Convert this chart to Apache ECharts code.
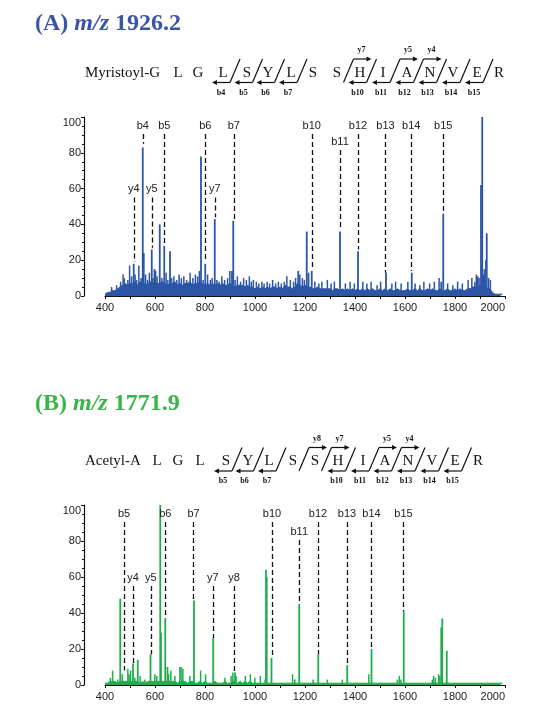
<!DOCTYPE html>
<html>
<head>
<meta charset="utf-8">
<script src="https://cdn.jsdelivr.net/npm/echarts@6/dist/echarts.min.js"></script>
<style>
  html, body { margin: 0; padding: 0; background: #fff; }
  #main { width: 537px; height: 724px; }
</style>
</head>
<body>
<div id="main"></div>
<script>
// ---- data ----
// baseline band, one value every 10 m/z from 400
var mzStart = 400, mzStep = 10;
var noiseA = [
  1,2,2,3,3,4,5,6,7,6,
  7,7,8,6,8,7,7,6,8,7,
  8,7,7,8,7,6,7,7,8,6,
  7,6,7,7,8,6,7,7,8,7,
  6,7,6,7,6,7,6,7,6,6,
  7,6,5,6,6,6,5,6,5,5,
  4,5,4,5,4,5,4,5,5,4,
  5,4,6,5,5,4,5,7,6,5,
  6,5,5,4,4,5,4,4,4,4,
  4,3,4,4,3,4,3,4,3,4,
  3,4,3,4,3,4,3,4,3,3,
  4,3,4,3,4,3,3,4,3,3,
  3,4,3,3,4,3,4,3,3,4,
  3,4,3,3,4,3,3,4,3,3,
  4,3,4,3,3,4,4,5,5,4,
  6,5,5,4,4,2,1,1,1,1
];
// small spikes on top of the band
var spikesA = [
  [427,5],[447,6],[463,8],[473,12],[478,10],[492,9],[499,17],[507,11],[521,12],[527,9],
  [536,17],[545,10],[563,12],[571,9],[578,13],[593,10],[603,14],[609,11],[628,10],[645,13],
  [652,9],[667,10],[676,11],[688,9],[697,12],[706,10],[716,11],[727,9],[741,13],[752,10],
  [762,12],[771,11],[778,14],[793,9],[811,12],[822,9],[829,10],[848,9],[857,8],[868,11],
  [879,9],[891,10],[900,14],[921,9],[930,11],[943,8],[955,10],[966,9],[978,11],[986,8],
  [994,9],[1006,8],[1016,7],[1028,8],[1037,7],[1049,8],[1059,7],[1071,9],[1083,7],[1094,8],
  [1106,7],[1118,8],[1128,11],[1142,9],[1155,8],[1163,10],[1180,12],[1190,10],[1198,9],[1240,8],
  [1256,7],[1268,8],[1290,9],[1305,7],[1318,8],[1362,7],[1381,8],[1398,7],[1432,8],[1448,7],
  [1465,8],[1489,6],[1503,8],[1548,7],[1563,8],[1585,7],[1612,8],[1641,7],[1660,6],[1676,8],
  [1699,7],[1718,8],[1737,10],[1771,7],[1792,6],[1811,8],[1830,7],[1853,9],[1868,10],[1880,8],
  [1886,12],[1897,10],[1914,12],[1918,15],[1935,10],[1942,9]
];
var peaksA = [
  [515,18],[551,83],[555,24],[587,26],[598,15],[619,40],[637,28],[660,25],
  [784,78],[801,18],[839,43],[908,14],[913,42],
  [1173,14],[1207,36],[1214,13],[1227,14],[1340,36],[1412,25],[1524,13],
  [1627,13],[1745,8],[1753,46],[1891,11],[1904,62],[1909,100],[1924,20],[1927,35]
];
// fragment label, m/z, dashed top, dashed bottom
var annA = [
  ['b4',551,90.5,85],['b5',637,90.5,29],['b6',801,90.5,19],['b7',915,90.5,43],
  ['y4',515,55,19],['y5',587,55,27],['y7',839,55,44],
  ['b10',1227,90.5,15],['b11',1340,81.5,37],['b12',1412,90.5,26],
  ['b13',1522,90.5,13],['b14',1625,90.5,14],['b15',1753,90.5,47]
];

var noiseB = [
  1,1,2,2,2,1,2,2,2,2,
  2,2,2,2,1,2,1,2,2,2,
  2,2,2,2,2,2,2,2,2,1,
  2,2,2,1,2,2,1,1,2,1,
  2,1,1,1,2,1,1,1,2,1,
  1,2,2,1,2,1,2,1,2,1,
  1,1,1,1,1,1,1,1,1,1,
  1,1,1,1,1,1,1,1,1,1,
  1,1,1,1,1,1,1,1,1,1,
  1,1,1,1,1,1,1,1,1,1,
  1,1,1,1,1,1,1,1,1,1,
  1,1,1,1,1,1,1,1,1,1,
  1,1,1,1,1,1,1,1,1,1,
  1,1,1,1,1,1,1,1,1,1,
  1,1,1,1,1,1,1,1,1,1,
  1,1,1,1,1,1,1,1,1,1
];
var spikesB = [
  [422,4],[431,8],[452,3],[470,6],[492,9],[497,6],[503,8],[520,4],[541,5],[560,3],
  [600,6],[608,5],[655,6],[664,8],[680,5],[700,10],[705,10],[712,9],[740,5],[783,8],
  [803,6],[880,4],[905,5],[912,7],[925,5],[962,5],[982,6],[1000,4],[1022,5],[1041,3],
  [1151,6],[1160,3],[1233,3],[1290,3],[1350,3],[1456,6],[1570,3],[1578,5],[1584,3],
  [1710,3],[1715,5],[1722,4],[1735,6],[1740,5]
];
var peaksB = [
  [461,48],[512,12],[531,14],[582,17],[621,100],[624,29],[641,37],[650,10],
  [756,47],[833,26],[920,7],[1044,64],[1047,60],[1066,15],[1177,45],[1253,17],
  [1369,11],[1466,20],[1595,41],[1745,32],[1749,37],[1767,19]
];
var annB = [
  ['b5',476,90.5,8],['b6',641,90.5,37],['b7',754,90.5,47],
  ['y4',512,55,12],['y5',583,55,17],['y7',831,55,26],['y8',916,55,7],
  ['b10',1068,90.5,15],['b11',1177,80.5,45],['b12',1252,90.5,17],
  ['b13',1368,90.5,11],['b14',1466,90.5,20],['b15',1594,90.5,41]
];

// peptide sequences and cleavage sites (index of residue after which the cut is)
var seqA = ['L','G','L','S','Y','L','S','S','H','I','A','N','V','E','R'];
var cutsA = [[2,'b4',''],[3,'b5',''],[4,'b6',''],[5,'b7',''],[7,'','y7'],[8,'b10',''],
  [9,'b11','y5'],[10,'b12','y4'],[11,'b13',''],[12,'b14',''],[13,'b15','']];
var seqB = ['L','G','L','S','Y','L','S','S','H','I','A','N','V','E','R'];
var cutsB = [[3,'b5',''],[4,'b6',''],[5,'b7',''],[6,'','y8'],[7,'','y7'],[8,'b10',''],
  [9,'b11','y5'],[10,'b12','y4'],[11,'b13',''],[12,'b14',''],[13,'b15','']];

// ---- layout ----
var blue = '#2b55a6', green = '#1fae4b';
var posA = [178,198,223,247,268,291,313,337,360,383,407,430,453,477,499];
var posB = [157,178,200,226,248,269,293,315,338,363,385,408,432,455,478];

(function () {
  var myChart = echarts.init(document.getElementById('main'));
  var serif = '"Liberation Serif", "Times New Roman", serif';
  var sans = '"Liberation Sans", Arial, Helvetica, sans-serif';

  function noisePoints(arr) {
    return arr.map(function (v, i) { return [mzStart + i * mzStep, v]; });
  }

  function markLines(ann) {
    return {
      silent: true,
      symbol: ['none', 'none'],
      animation: false,
      lineStyle: { type: [5, 3], color: '#111', width: 1.3 },
      label: { show: true, position: 'start', distance: 3, formatter: '{b}',
        color: '#222', fontSize: 11, fontFamily: sans },
      data: ann.map(function (a) {
        return [{ name: a[0], coord: [a[1], a[2]] }, { coord: [a[1], a[3]] }];
      })
    };
  }

  function xAxis(idx) {
    return {
      type: 'value', gridIndex: idx, min: 400, max: 2000, interval: 100, offset: 2,
      axisLine: { show: true, lineStyle: { color: '#111', width: 1.2 } },
      axisTick: { show: true, length: 3, lineStyle: { color: '#111' } },
      splitLine: { show: false },
      axisLabel: {
        color: '#222', fontSize: 11, fontFamily: sans, margin: 4,
        alignMaxLabel: 'right',
        formatter: function (v) { return v % 200 === 0 ? v : ''; }
      }
    };
  }

  function yAxis(idx) {
    return {
      type: 'value', gridIndex: idx, min: 0, max: 100, interval: 20, offset: 21,
      axisLine: { show: true, lineStyle: { color: '#111', width: 1.2 } },
      axisTick: { show: true, length: 3, lineStyle: { color: '#111' } },
      minorTick: { show: true, splitNumber: 4, length: 2, lineStyle: { color: '#111' } },
      splitLine: { show: false },
      axisLabel: { color: '#222', fontSize: 11, fontFamily: sans, margin: 3,
        verticalAlignMaxLabel: 'top' }
    };
  }

  // 序列 + 碎片标记
  function seqGraphics(label, seq, pos, cuts, y0) {
    var g = [];
    var txt = function (x, y, s, font) {
      return { type: 'text', x: x, y: y, silent: true,
        style: { text: s, font: font, fill: '#111', align: 'center', verticalAlign: 'middle',
          textAlign: 'center', textVerticalAlign: 'middle' } };
    };
    g.push({ type: 'text', x: 85, y: y0, silent: true,
      style: { text: label, font: '15px ' + serif, fill: '#111', align: 'left', verticalAlign: 'middle',
        textAlign: 'left', textVerticalAlign: 'middle' } });
    seq.forEach(function (r, i) { g.push(txt(pos[i], y0, r, '15px ' + serif)); });
    var yb = y0 + 9.5, yt = y0 - 14;
    var ln = function (x1, y1, x2, y2) {
      return { type: 'line', silent: true, shape: { x1: x1, y1: y1, x2: x2, y2: y2 },
        style: { stroke: '#111', lineWidth: 1.2 } };
    };
    var head = function (pts) {
      return { type: 'polygon', silent: true, shape: { points: pts }, style: { fill: '#111' } };
    };
    cuts.forEach(function (c) {
      var s = (pos[c[0]] + pos[c[0] + 1]) / 2;
      g.push(ln(s - 5, yb, s + 5, yt));
      if (c[1]) {
        g.push(ln(s - 5, yb, s - 19, yb));
        g.push(head([[s - 23, yb], [s - 18, yb - 2.5], [s - 18, yb + 2.5]]));
        g.push(txt(s - 14, y0 + 19.5, c[1], 'bold 8px ' + serif));
      }
      if (c[2]) {
        g.push(ln(s + 5, yt, s + 19, yt));
        g.push(head([[s + 23, yt], [s + 18, yt - 2.5], [s + 18, yt + 2.5]]));
        g.push(txt(s + 13, y0 - 23, c[2], 'bold 8px ' + serif));
      }
    });
    return g;
  }

  var titleRich = function (color) {
    return {
      n: { fontFamily: serif, fontWeight: 'bold', fontSize: 24, color: color },
      i: { fontFamily: serif, fontWeight: 'bold', fontStyle: 'italic', fontSize: 24, color: color }
    };
  };

  function spectrum(idx, color, noise, spikes, peaks, ann) {
    return [
      { type: 'line', xAxisIndex: idx, yAxisIndex: idx, data: noisePoints(noise),
        showSymbol: false, lineStyle: { color: color, width: 1 },
        areaStyle: { color: color, opacity: 1 } },
      { type: 'bar', xAxisIndex: idx, yAxisIndex: idx, data: spikes, barWidth: 1.5,
        barGap: '-100%', itemStyle: { color: color } },
      { type: 'bar', xAxisIndex: idx, yAxisIndex: idx, data: peaks, barWidth: 1.8,
        barGap: '-100%', itemStyle: { color: color }, markLine: markLines(ann) }
    ];
  }

  var option = {
    animation: false,
    backgroundColor: '#fff',
    title: [
      { left: 35, top: 12, padding: 0, text: '{n|(A) }{i|m/z}{n| 1926.2}',
        textStyle: { rich: titleRich('#3a55a5') } },
      { left: 35, top: 392, padding: 0, text: '{n|(B) }{i|m/z}{n| 1771.9}',
        textStyle: { rich: titleRich('#3bb44a') } }
    ],
    grid: [
      { left: 105, right: 32, top: 117, height: 179 },
      { left: 105, right: 32, top: 505, height: 180 }
    ],
    xAxis: [xAxis(0), xAxis(1)],
    yAxis: [yAxis(0), yAxis(1)],
    graphic: seqGraphics('Myristoyl-G', seqA, posA, cutsA, 73)
      .concat(seqGraphics('Acetyl-A', seqB, posB, cutsB, 461.5)),
    series: spectrum(0, blue, noiseA, spikesA, peaksA, annA)
      .concat(spectrum(1, green, noiseB, spikesB, peaksB, annB))
  };

  myChart.setOption(option);
})();
</script>
</body>
</html>
